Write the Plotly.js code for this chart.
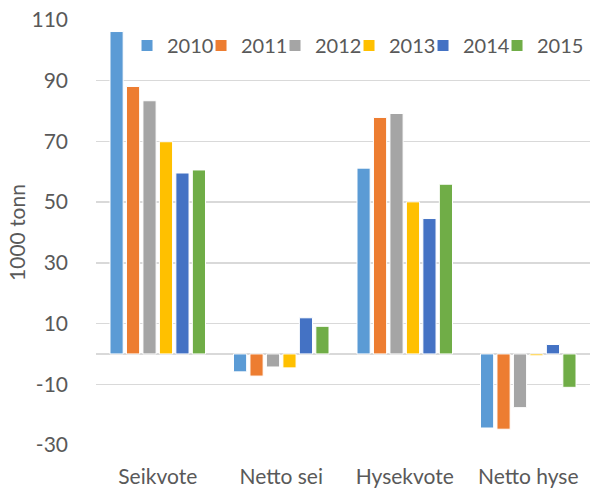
<!DOCTYPE html>
<html><head><meta charset="utf-8">
<script src="https://cdn.plot.ly/plotly-3.0.1.min.js"></script>
<style>html,body{margin:0;padding:0;background:#fff}#chart{width:592px;height:488px}</style>
</head><body><div id="chart"></div>
<script>
const categories = ["Seikvote", "Netto sei", "Hysekvote", "Netto hyse"];
const years = ["2010", "2011", "2012", "2013", "2014", "2015"];
const v2010 = [106.2, -5.9, 61.2, -24.4];
const v2011 = [88.1, -7.3, 77.9, -24.8];
const v2012 = [83.4, -4.3, 79.2, -17.7];
const v2013 = [69.9, -4.6, 50.1, -0.6];
const v2014 = [59.6, 11.9, 44.6, 3.1];
const v2015 = [60.6, 9.1, 55.9, -11.0];
const tickVals = [-30, -10, 10, 30, 50, 70, 90, 110];
const colors = ["#5B9BD5", "#ED7D31", "#A5A5A5", "#FFC000", "#4472C4", "#70AD47"];
const series = [v2010, v2011, v2012, v2013, v2014, v2015];

const font = "Lato, 'Open Sans', sans-serif";
const traces = series.map((vals, i) => ({
  type: "bar", name: years[i], x: categories, y: vals,
  marker: {color: colors[i], line: {color: "#ffffff", width: 1}},
  legendwidth: i === series.length - 1 ? 46 : 29,
  hoverinfo: "x+y+name"
}));

const layout = {
  width: 592, height: 488,
  margin: {l: 96, r: 2, t: 20, b: 43},
  paper_bgcolor: "#fff", plot_bgcolor: "#fff",
  font: {family: font, color: "#595959", size: 21},
  barmode: "group", bargap: 0.2, bargroupgap: 0.2,
  showlegend: true,
  legend: {orientation: "h", x: 0.0628, xanchor: "left", y: 0.94, yanchor: "middle",
           font: {size: 20, color: "#595959"}, bgcolor: "rgba(0,0,0,0)",
           itemwidth: 30, traceorder: "normal"},
  xaxis: {showgrid: false, showline: false, ticks: "", tickfont: {size: 21},
          ticklabelstandoff: 17, fixedrange: true},
  yaxis: {range: [-30, 110], tickvals: tickVals, ticktext: tickVals.map(String),
          showgrid: true, gridcolor: "#d9d9d9", gridwidth: 1.5,
          zeroline: true, zerolinecolor: "#d9d9d9", zerolinewidth: 1.5,
          showline: false, ticks: "", tickfont: {size: 21}, ticklabelstandoff: 27,
          title: {text: "1000 tonn", font: {size: 21}, standoff: 0}, fixedrange: true}
};
Plotly.newPlot("chart", traces, layout, {displayModeBar: false, staticPlot: true});
</script></body></html>
